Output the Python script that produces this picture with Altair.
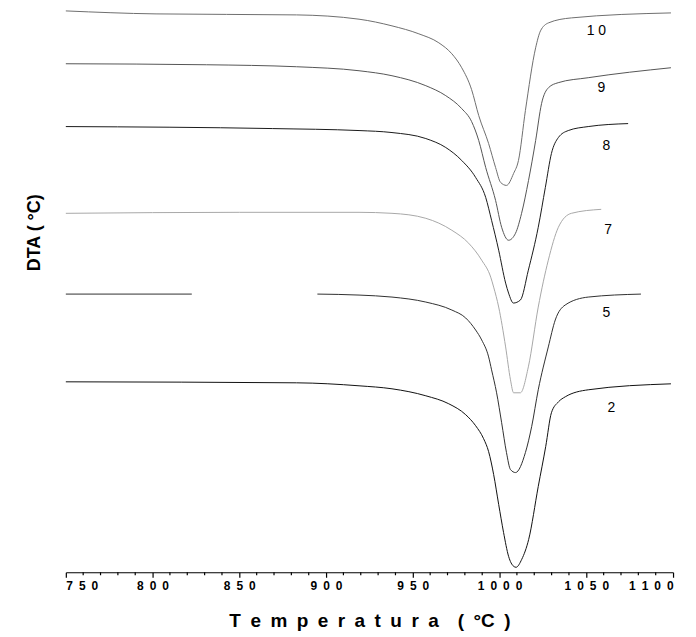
import altair as alt
import pandas as pd

# DTA curves: temperature (°C) and DTA signal (arbitrary units, offset per curve)
T10 = [750, 802, 883, 919, 938, 953.5, 965, 972.5, 978.2, 983.9, 988.0, 993.7, 997.7, 1000.6, 1004.0, 1008.1, 1010.9, 1014.9, 1020.8, 1023.6, 1028.2, 1041.4, 1098.8]
Y10 = [563, 560, 559, 554.7, 548, 540, 531, 520, 506, 484, 458, 430, 406, 391, 388, 400, 413, 463, 526, 543, 551, 556, 561]

T9 = [750, 831, 883, 919, 938, 957.5, 969, 978.2, 983.9, 988.0, 992.0, 997.7, 1001.2, 1005.2, 1009.2, 1012.7, 1016.7, 1020.8, 1024.2, 1028.2, 1033.8, 1051.1, 1098.8]
Y9 = [510, 509, 507, 503, 498, 488, 478, 465, 452, 433, 406, 373, 346, 333, 340, 360, 393, 433, 470, 486, 491, 496, 506]

T8 = [750, 869, 919, 938, 957.5, 969, 978.2, 986.2, 992.0, 995.4, 999.5, 1003.5, 1005.2, 1008.0, 1012.0, 1016.6, 1022.3, 1026.4, 1029.9, 1033.9, 1039.6, 1051.1, 1074.1]
Y8 = [447, 445, 443, 441, 435, 426, 413, 396, 376, 353, 323, 290, 280, 270, 273, 303, 346, 386, 420, 436, 443, 447, 450]

T7 = [750, 850, 919, 938, 957.5, 972.5, 982.2, 989.7, 994.9, 996.6, 999.5, 1003.5, 1006.3, 1008.1, 1012.0, 1016.6, 1022.3, 1028.1, 1033.9, 1041.4, 1058.6]
Y7 = [360, 361, 361, 360, 355, 343, 330, 313, 296, 286, 266, 226, 193, 180, 180, 206, 266, 313, 346, 360, 364]

T5a = [750, 822.6]
Y5a = [279, 279]
T5b = [895, 919, 938, 957.5, 972.5, 980.5, 986.2, 989.7, 993.7, 995.4, 998.3, 1001.2, 1004.0, 1006.3, 1009.2, 1014.9, 1018.5, 1022.3, 1028.1, 1032.1, 1037.8, 1051.1, 1081.5]
Y5b = [279, 278, 276, 271, 263, 255, 243, 233, 216, 203, 180, 150, 120, 103, 100, 120, 146, 183, 226, 253, 268, 276, 279]

T2 = [750, 883, 919, 938, 957.5, 970.7, 980.5, 986.2, 990.8, 993.7, 996.6, 999.5, 1002.3, 1005.2, 1008.1, 1009.5, 1012.8, 1016.8, 1022.3, 1026.6, 1029.9, 1034.0, 1037.9, 1051.1, 1098.8]
Y2 = [191, 190, 187, 184, 177, 169, 158, 147, 134, 121, 98, 68, 40, 16, 6, 5, 13, 33, 86, 126, 160, 171, 176, 183, 189]

curve_names = ["10", "9", "8", "7", "5", "2"]
curve_colors = ["#6e6e6e", "#555555", "#1a1a1a", "#a8a8a8", "#303030", "#111111"]

label_text = ["1 0", "9", "8", "7", "5", "2"]
label_T = [1055.8, 1058.7, 1061.5, 1062.6, 1061.5, 1064.4]
label_Y = [543, 486, 428, 343, 260, 165]

minor_ticks = [t for t in range(760, 1100, 10) if t % 50 != 0]
major_ticks = list(range(750, 1101, 50))

EN = "\u2002"
x_title = EN.join(list("Temperatura")) + EN + EN + "(" + EN + "°C" + EN + ")"

rows = []
for name, seg, ts, ys in [("10", "10", T10, Y10), ("9", "9", T9, Y9), ("8", "8", T8, Y8),
                          ("7", "7", T7, Y7), ("5", "5a", T5a, Y5a), ("5", "5b", T5b, Y5b),
                          ("2", "2", T2, Y2)]:
    for t, y in zip(ts, ys):
        rows.append({"curve": name, "seg": seg, "T": t, "DTA": y})
df = pd.DataFrame(rows)
labels = pd.DataFrame({"text": label_text, "T": label_T, "DTA": label_Y})
minor = pd.DataFrame({"T": minor_ticks})

xscale = alt.Scale(domain=[750, 1100], nice=False, zero=False)
yscale = alt.Scale(domain=[0, 565], nice=False, zero=False)

lines = alt.Chart(df).mark_line(strokeWidth=1, interpolate="monotone").encode(
    x=alt.X("T:Q", scale=xscale,
            axis=alt.Axis(values=major_ticks, format="d", title=x_title,
                          labelExpr="join(split(datum.label, ''), '" + EN + "')",
                          labelFont="Liberation Sans", labelFontWeight="bold", labelFontSize=12,
                          labelColor="black", labelPadding=3, grid=False,
                          tickColor="black", tickSize=5, tickWidth=1.2,
                          domainColor="black", domainWidth=1.2,
                          titleFont="Liberation Sans", titleFontSize=19, titleFontWeight="bold",
                          titleColor="black", titleY=48, titleBaseline="middle")),
    y=alt.Y("DTA:Q", scale=yscale,
            axis=alt.Axis(domain=False, ticks=False, labels=False, grid=False,
                          title="DTA ( °C)", titleFont="Liberation Sans", titleFontSize=18,
                          titleFontWeight="bold", titleColor="black",
                          titleX=-31, titleY=224, titleAngle=-90, titleBaseline="middle",
                          titleAlign="center")),
    color=alt.Color("curve:N", scale=alt.Scale(domain=curve_names, range=curve_colors), legend=None),
    detail="seg:N",
)

minor_rules = alt.Chart(minor).mark_rule(color="black", strokeWidth=1.2).encode(
    x=alt.X("T:Q", scale=xscale),
    y=alt.value(565),
    y2=alt.value(568),
)

text = alt.Chart(labels).mark_text(font="Liberation Sans", fontSize=14, color="black",
                                   baseline="middle", align="center").encode(
    x=alt.X("T:Q", scale=xscale),
    y=alt.Y("DTA:Q", scale=yscale),
    text="text:N",
)

chart = alt.layer(lines, minor_rules, text).properties(
    width=609, height=565,
    autosize=alt.AutoSizeParams(type="none"),
    padding={"left": 58, "top": 0, "right": 15, "bottom": 62},
    background="white",
).configure_view(stroke=None)

chart.save("out.html", embed_options={"renderer": "svg", "actions": False})
